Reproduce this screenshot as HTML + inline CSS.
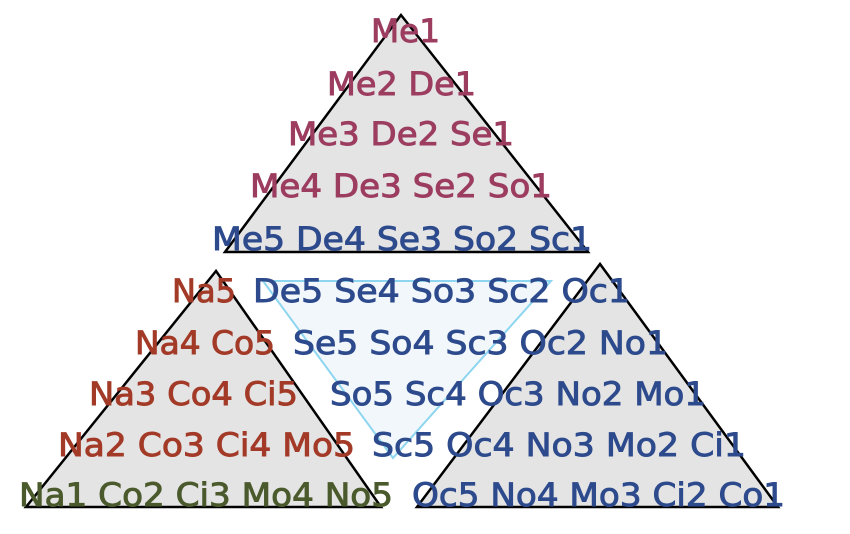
<!DOCTYPE html>
<html><head><meta charset="utf-8"><style>
html,body{margin:0;padding:0;background:#fff;}
svg{display:block;}
text{font-family:"DejaVu Sans","Liberation Sans",sans-serif;font-size:32px;stroke-width:0.9px;}
.m{fill:#9c3d60;stroke:#9c3d60;}.b{fill:#2d4a8c;stroke:#2d4a8c;}.r{fill:#a33a28;stroke:#a33a28;}.g{fill:#4b5a2c;stroke:#4b5a2c;}
</style></head><body>
<svg width="850" height="534" viewBox="0 0 850 534" xmlns="http://www.w3.org/2000/svg">
<polygon points="401,15 225,252 588,252" fill="#e4e4e4" stroke="#000" stroke-width="2.5"/>
<polygon points="216,271 26,507 381,507" fill="#e4e4e4" stroke="#000" stroke-width="2.5"/>
<polygon points="600,264 417,507 778,507" fill="#e4e4e4" stroke="#000" stroke-width="2.5"/>
<polygon points="263,281 551,281 393,458" fill="#f1f7fb" stroke="#8ed6f0" stroke-width="2"/>
<text class="m" x="371" y="42" textLength="69" lengthAdjust="spacingAndGlyphs">Me1</text>
<text class="m" x="327" y="95" textLength="149" lengthAdjust="spacingAndGlyphs">Me2 De1</text>
<text class="m" x="288" y="145" textLength="226" lengthAdjust="spacingAndGlyphs">Me3 De2 Se1</text>
<text class="m" x="250" y="197" textLength="302" lengthAdjust="spacingAndGlyphs">Me4 De3 Se2 So1</text>
<text class="b" x="212" y="250" textLength="380" lengthAdjust="spacingAndGlyphs">Me5 De4 Se3 So2 Sc1</text>
<text class="r" x="172" y="302" textLength="64" lengthAdjust="spacingAndGlyphs">Na5</text>
<text class="b" x="253" y="302" textLength="377" lengthAdjust="spacingAndGlyphs">De5 Se4 So3 Sc2 Oc1</text>
<text class="r" x="135" y="354" textLength="140" lengthAdjust="spacingAndGlyphs">Na4 Co5</text>
<text class="b" x="293" y="354" textLength="375" lengthAdjust="spacingAndGlyphs">Se5 So4 Sc3 Oc2 No1</text>
<text class="r" x="89" y="405" textLength="209" lengthAdjust="spacingAndGlyphs">Na3 Co4 Ci5</text>
<text class="b" x="330" y="405" textLength="376" lengthAdjust="spacingAndGlyphs">So5 Sc4 Oc3 No2 Mo1</text>
<text class="r" x="58" y="456" textLength="297" lengthAdjust="spacingAndGlyphs">Na2 Co3 Ci4 Mo5</text>
<text class="b" x="372" y="456" textLength="374" lengthAdjust="spacingAndGlyphs">Sc5 Oc4 No3 Mo2 Ci1</text>
<text class="g" x="19" y="506" textLength="374" lengthAdjust="spacingAndGlyphs">Na1 Co2 Ci3 Mo4 No5</text>
<text class="b" x="412" y="506" textLength="373" lengthAdjust="spacingAndGlyphs">Oc5 No4 Mo3 Ci2 Co1</text>
</svg>
</body></html>
